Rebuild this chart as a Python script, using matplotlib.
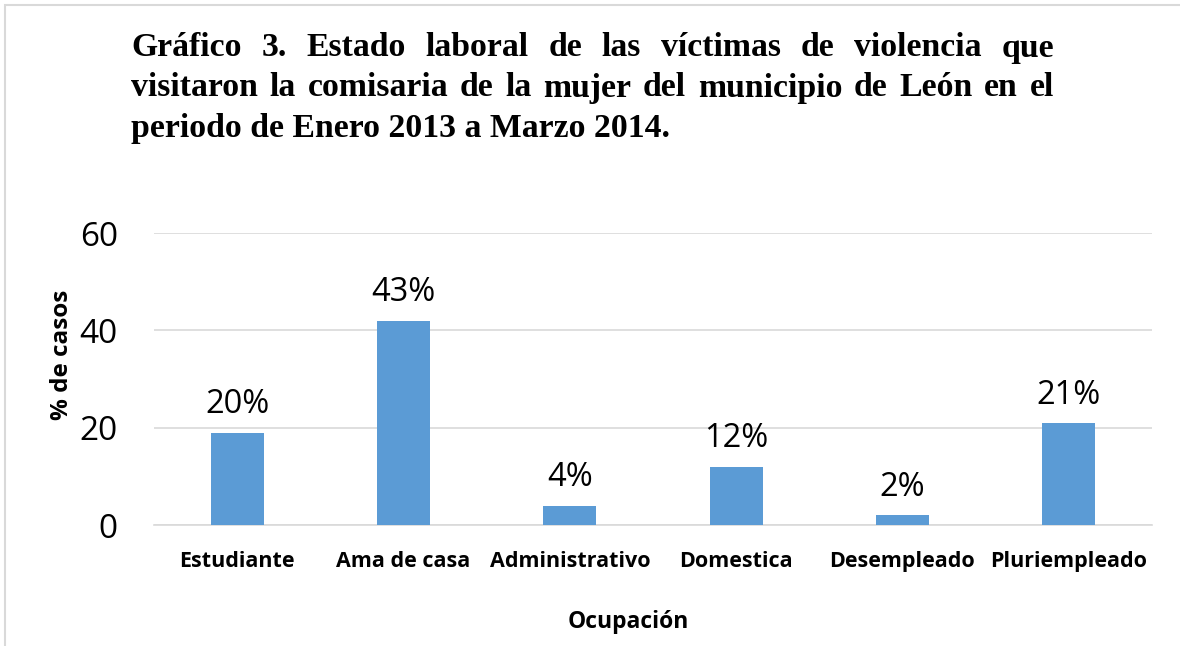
import matplotlib
matplotlib.use("Agg")
import matplotlib.pyplot as plt
import matplotlib.patches as mpatches
import numpy as np

categorias = ["Estudiante", "Ama de casa", "Administrativo", "Domestica", "Desempleado", "Pluriempleado"]
valores = [19, 42, 4, 12, 2, 21]
etiquetas = ["20%", "43%", "4%", "12%", "2%", "21%"]
titulo = [
    "Gráfico 3. Estado laboral de las víctimas de violencia que",
    "visitaron la  comisaria de la mujer del municipio de León en el",
    "periodo de Enero 2013 a Marzo 2014.",
]

W, H = 1180, 646
fig = plt.figure(figsize=(W / 100, H / 100), dpi=100)
ax = fig.add_axes([154 / W, (H - 525) / H, (1152 - 154) / W, (525 - 233) / H])

sans = "Open Sans"
x = np.arange(len(categorias))
ax.bar(x, valores, width=0.32, color="#5B9BD5", zorder=3)
for xi, v, lab in zip(x, valores, etiquetas):
    ax.annotate(lab, (xi, v), xytext=(0, 8), textcoords="offset points",
                ha="center", va="bottom", fontsize=23.5, family=sans, color="#000000")

ax.set_xlim(-0.5, len(categorias) - 0.5)
ax.set_ylim(0, 60)
ax.set_yticks([0, 20, 40, 60])
ax.set_xticks(x)
ax.set_xticklabels(categorias, fontsize=15.5, fontweight="bold", family=sans)
ax.tick_params(axis="y", labelsize=24, length=0, pad=26)
for t in ax.get_yticklabels():
    t.set_family(sans)
ax.tick_params(axis="x", length=0, pad=19)
ax.grid(axis="y", color="#D9D9D9", lw=1.2, zorder=0)
for s in ["top", "right", "left"]:
    ax.spines[s].set_visible(False)
ax.spines["bottom"].set_color("#D9D9D9")
ax.spines["bottom"].set_linewidth(1.2)

fig.text(62 / W, 1 - 355 / H, "% de casos", rotation=90, ha="center", va="center",
         fontsize=17.5, fontweight="bold", family=sans)
fig.text(628 / W, 1 - 622 / H, "Ocupación", ha="center", va="center",
         fontsize=16.5, fontweight="bold", family=sans)

# border
fig.patches.append(mpatches.Rectangle((5 / W, -0.1), 1.2, 1 - 5 / H + 0.1, transform=fig.transFigure,
                                      fill=False, edgecolor="#D9D9D9", lw=1.5))

# justified title
fig.canvas.draw()
r = fig.canvas.get_renderer()
x0, x1 = 131, 1054
ys = [48, 88, 128]
tkw = dict(fontsize=24.3, fontweight="bold", family="Liberation Serif", va="center", ha="left")
for i, linea in enumerate(titulo):
    palabras = linea.split()
    yy = 1 - ys[i] / H
    if i == len(titulo) - 1:
        fig.text(x0 / W, yy, linea, **tkw)
        continue
    anchos = []
    for p in palabras:
        t = fig.text(0, 0, p, **tkw)
        anchos.append(t.get_window_extent(r).width)
        t.remove()
    gap = (x1 - x0 - sum(anchos)) / (len(palabras) - 1)
    px = x0
    for p, a in zip(palabras, anchos):
        fig.text(px / W, yy, p, **tkw)
        px += a + gap

fig.savefig("out.png", dpi=100)
